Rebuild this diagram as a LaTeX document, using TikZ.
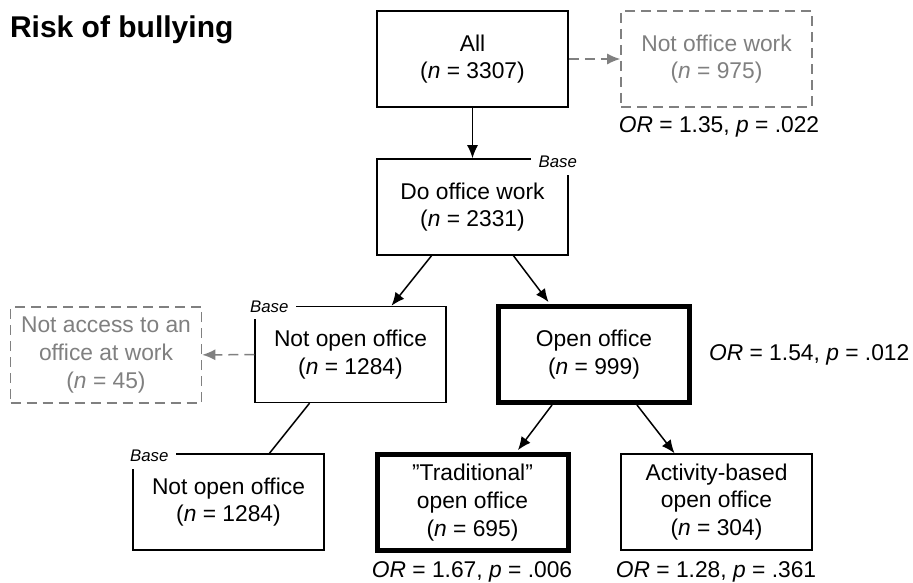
\documentclass[tikz,border=0pt]{standalone}
\usepackage{fontspec}
\setmainfont{Liberation Sans}
\usetikzlibrary{arrows.meta}
\begin{document}
\begin{tikzpicture}[x=0.5pt,y=-0.5pt,>={Latex[length=6.6pt,width=5.6pt]},
  box/.style={draw=black,line width=.75pt,fill=white,align=center,minimum width=95.5pt,minimum height=48pt,inner sep=2pt,font=\fontsize{11.4}{13.8}\selectfont},
  bold/.style={box,line width=2.5pt},
  excl/.style={box,draw=black!50,dash pattern=on 5pt off 3pt,text=black!50},
  base/.style={fill=white,inner xsep=3.8pt,inner ysep=0pt,minimum height=12.5pt,font=\fontsize{8.4}{10}\selectfont\itshape},
  stat/.style={font=\fontsize{11.4}{13.8}\selectfont},
  flow/.style={->,line width=.75pt},
  exclflow/.style={->,line width=.75pt,draw=black!50,dash pattern=on 5pt off 3pt}]
\useasboundingbox (0,0) rectangle (913,582);
\node[anchor=west,font=\fontsize{15}{18}\selectfont\bfseries] (title) at (3,30) {Risk of bullying};
\node[box] (all) at (472.5,59) {All\\(\textit{n} = 3307)};
\node[excl] (notwork) at (716.5,59) {Not office work\\(\textit{n} = 975)};
\node[stat] (ornotwork) at (719,127) {\textit{OR} = 1.35, \textit{p} = .022};
\node[box] (do) at (472.5,207) {Do office work\\(\textit{n} = 2331)};
\node[box] (notopen) at (350.5,354.5) {Not open office\\(\textit{n} = 1284)};
\node[excl] (noaccess) at (106,355) {Not access to an\\office at work\\(\textit{n} = 45)};
\node[bold] (open) at (594,354.5) {Open office\\(\textit{n} = 999)};
\node[stat,anchor=west] (oropen) at (702,354.5) {\textit{OR} = 1.54, \textit{p} = .012};
\node[box] (notopenb) at (228.5,502) {Not open office\\(\textit{n} = 1284)};
\node[bold] (trad) at (472.5,502.5) {”Traditional”\\open office\\(\textit{n} = 695)};
\node[box] (abw) at (716.5,502) {Activity-based\\open office\\(\textit{n} = 304)};
\node[stat] (ortrad) at (472,572) {\textit{OR} = 1.67, \textit{p} = .006};
\node[stat] (orabw) at (716,572) {\textit{OR} = 1.28, \textit{p} = .361};
\node[base] (basedo) at ([xshift=-5.5pt,yshift=-2pt]do.north east) {Base};
\node[base] (basenotopen) at ([xshift=7.5pt,yshift=-0.5pt]notopen.north west) {Base};
\node[base] (basenotopenb) at ([xshift=8.5pt,yshift=-1.5pt]notopenb.north west) {Base};
\draw[flow] (all) -- (do);
\draw[exclflow] (all) -- (notwork);
\draw[flow] ([xshift=-20.5pt]do.south) -- ([xshift=20.5pt]notopen.north);
\draw[flow,shorten >=1.2pt] ([xshift=20.5pt]do.south) -- ([xshift=-22pt]open.north);
\draw[exclflow] (notopen) -- (noaccess);
\draw[line width=.75pt] ([xshift=-20.5pt]notopen.south) -- ([xshift=20.5pt]notopenb.north);
\draw[flow,shorten >=1.2pt] ([xshift=-21pt]open.south) -- ([xshift=22pt]trad.north);
\draw[flow] ([xshift=21.5pt]open.south) -- ([xshift=-21pt]abw.north);
\end{tikzpicture}
\end{document}
